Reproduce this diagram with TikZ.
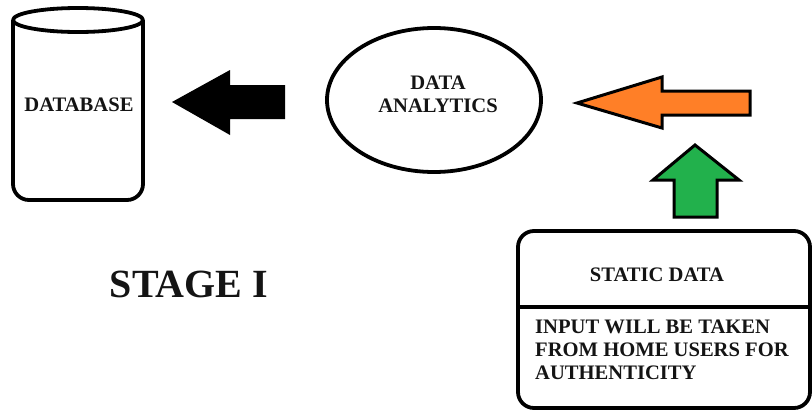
\documentclass[tikz,border=0pt]{standalone}
\usepackage{fontspec}
\setmainfont{Liberation Serif}
\usetikzlibrary{shapes.geometric}
\definecolor{paintorange}{RGB}{255,127,39}
\definecolor{paintgreen}{RGB}{34,177,76}
\definecolor{inkc}{RGB}{20,20,20}
\begin{document}
\begin{tikzpicture}[x=1pt,y=-1pt,
  outline/.style={draw=black,line width=3.8pt,line join=round},
  blockarrow/.style={draw=black,line width=3pt,line join=miter},
  lbl/.style={font=\bfseries\fontsize{20.6}{22.6}\selectfont,text=inkc,inner sep=0pt}]
\useasboundingbox (0,0) rectangle (812,410);
\clip (0,0) rectangle (812,410);
% database cylinder
\draw[outline,fill=white,rounded corners=16pt] (13,20) -- (13,200) -- (143,200) -- (143,20);
\draw[outline,fill=white] (78,20) ellipse [x radius=65,y radius=12];
\node[lbl] (db) at (79,105) {DATABASE};
% black arrow
\fill[black] (172,102) -- (230,70) -- (230,85) -- (285,85) -- (285,119) -- (230,119) -- (230,135) -- cycle;
% data analytics ellipse
\node[outline,ellipse,minimum width=214pt,minimum height=144pt,inner sep=0pt] (da) at (434,100) {};
\node[lbl,align=center] (dat) at (438,94) {DATA\\ANALYTICS};
% orange arrow
\draw[blockarrow,fill=paintorange] (577,103) -- (662,77) -- (662,91) -- (750,91) -- (750,115) -- (662,115) -- (662,128) -- cycle;
% green arrow
\draw[blockarrow,fill=paintgreen] (695,145) -- (739,180) -- (717,180) -- (717,217) -- (674,217) -- (674,180) -- (653,180) -- cycle;
% static data box
\draw[outline,rounded corners=16pt] (518,231) rectangle (810,408);
\draw[line width=3.8pt] (516,307) -- (812,307);
\node[lbl] (sd) at (657,275) {STATIC DATA};
\node[lbl,align=left,anchor=north west] (inp) at (535,320) {INPUT WILL BE TAKEN\\FROM HOME USERS FOR\\AUTHENTICITY};
% stage label
\node[font=\bfseries\fontsize{40}{42}\selectfont,text=inkc,inner sep=0pt] (stage) at (189,284) {STAGE I};
\end{tikzpicture}
\end{document}
